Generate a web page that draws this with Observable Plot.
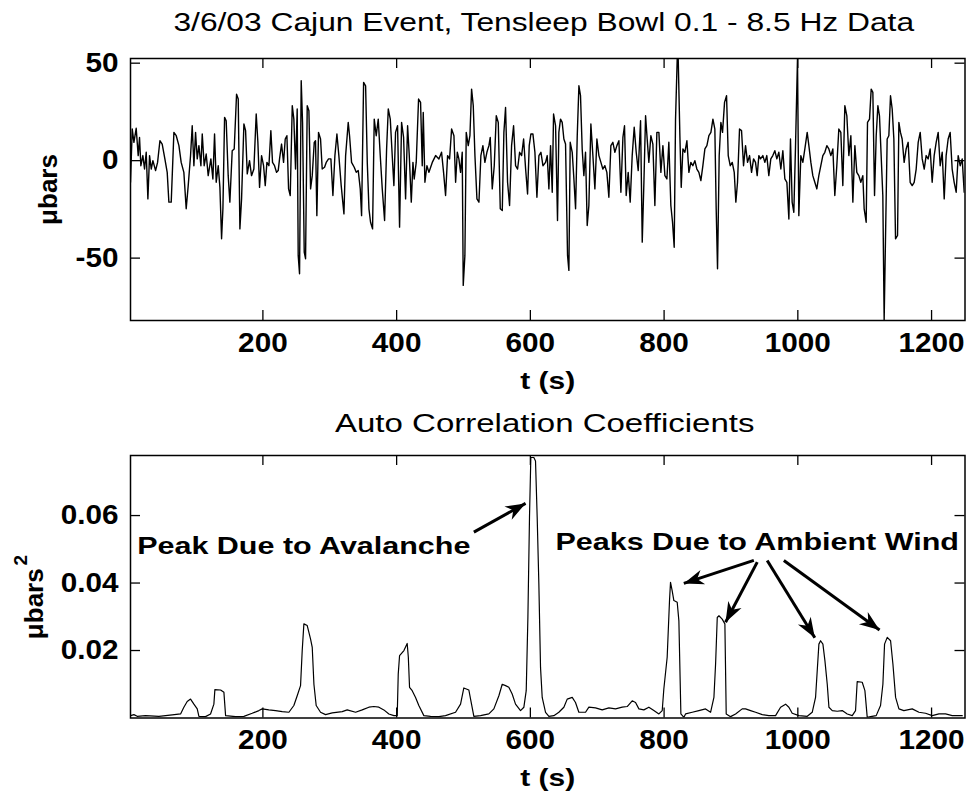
<!DOCTYPE html>
<html>
<head>
<meta charset="utf-8">
<script src="https://cdn.jsdelivr.net/npm/d3@7"></script>
<script src="https://cdn.jsdelivr.net/npm/@observablehq/plot@0.6"></script>
<style>
  html, body { margin: 0; padding: 0; background: #fff; }
  #chart { width: 969px; }
  #chart svg { display: block; }
</style>
</head>
<body>
<div id="chart"></div>
<script>
// ---------- data ----------
const titleTop = "3/6/03 Cajun Event, Tensleep Bowl 0.1 - 8.5 Hz Data";
const titleBottom = "Auto Correlation Coefficients";
const xLabel = "t (s)";
const yLabelTop = "\u03bcbars";
const yLabelBottom = "\u03bcbars";
const yLabelBottomSup = "2";
const xTicks = [200, 400, 600, 800, 1000, 1200];
const topYTicks = [-50, 0, 50];
const botYTicks = [0.02, 0.04, 0.06];
const xDomain = [2, 1250];
const topYDomain = [-82, 52.4];
const botYDomain = [0, 0.0778];

// waveform, [t (s), pressure (µbars)]
const waveSegA = [[2,-11.1],[4.6,16.2],[7.1,9.4],[10.5,16.6],[13.5,2.6],[15.5,11.9],[17.5,-2.6],[20.5,2.6],[23,-4.3],[25.5,4.3],[28,-19.6],[30.5,2.6],[33,-4.3],[35.5,0],[39.5,-5.1],[42.5,-0.9],[46,10.2],[49.4,8.5],[53.4,0.9],[56.9,-6],[59.4,-21.3],[62.9,-21.3],[66.9,14.5],[70.4,12.8],[74.4,7.7],[77.8,-0.9],[81.8,-6],[85.3,-24.7],[88.3,-12.8],[91.8,2.6],[94.3,17.9],[96.8,-2.6],[99.3,14.5],[101.8,0.9],[104.3,7.7],[107.3,-2.6],[109.3,13.7],[112.2,-2.6],[115.2,3.4],[118.2,-7.7],[122.2,0.9],[125.2,-9.4],[127.7,13.7],[130.2,-11.1],[133.2,-2.6],[135.7,-13.7],[138.2,-40.1],[140.2,-24.7],[142.7,22.2],[145.1,20.5],[148.1,-7.7],[150.6,-21.3],[154.1,5.1],[157.1,6],[160.6,34.1],[163.1,31.6],[165.6,-35],[168.1,-19.6],[171.6,18.8],[174.1,15.4],[176.6,-6.8],[180,0],[183,-7.7],[186.5,-4.3],[190,23.9],[192.5,9.4],[195,-13.7],[198,2.6],[201,-2.6],[203.5,-12.8],[206,-0.9],[209,-2.6],[211.9,15.4],[214.4,-0.9],[217.4,-2.6],[220.4,-6],[222.9,-5.1],[224.9,0.9],[227.9,8.5],[230.9,-0.9],[233.4,11.1],[235.9,12.8],[238.4,-14.5],[240.9,-17.9],[243.9,28.2],[246.3,21.3],[248.8,-4.3],[251.3,26.5],[252.8,-48.6],[254.8,-58],[257.3,41],[259.3,19.6],[261.8,-46.9],[263.8,-50.3],[266.3,28.2],[268.8,25.6],[271.3,-14.5],[273.8,-7.7],[276.8,9.4],[278.7,10.2],[280.7,-28.2],[283.2,14.5],[286.2,11.1],[288.7,-4.3],[292.2,-3.4],[294.7,-0.9],[298.2,0.9],[301.7,0.9],[304.7,-17.9],[307.7,2.6],[310.7,13.7],[313.6,2.6],[317.1,-12.8]];
const waveSegB = [[321.2,-27.3],[323.7,2.6],[327.6,19.6],[329.6,12.8],[332.6,-0.9],[336.6,-3.4],[339.6,-6],[342.6,-5.1],[345.6,-14.5],[347.6,-28.2],[350.6,40.1],[353.6,38.4],[356.1,-0.9],[358.6,-24.7],[361,-31.6],[364,-35],[366.5,21.3],[369.5,12.8],[372.5,21.3],[375.5,2.6],[378.5,-14.5],[382,-30.7],[385,6],[387.5,26.5],[390.5,21.3],[393.4,2.6],[395.9,-12.8],[398.4,14.5],[401.4,17.9],[404.4,-34.1],[407.4,19.6],[410.4,11.9],[413.4,-19.6],[416.4,17.9],[418.9,2.6],[421.9,-21.3],[424.4,-0.9],[426.3,-9.4],[429.3,-0.9],[432.8,31.6],[435.8,29.9],[438.3,-2.6],[439.8,24.7],[442.3,-11.1],[445.3,-2.6],[448.3,-6],[453.3,-0.9],[458.3,2.6],[463.2,0.9],[467.2,4.3],[470.2,-6],[473.2,-17.9],[476.2,2.6],[479.2,0.9],[482.2,16.2],[485.7,12.8],[488.2,-11.1],[490.7,4.3],[493.1,0.9],[495.6,-6],[498.1,4.3],[499.6,-64],[502.1,-48.6],[504.1,14.5],[507.1,7.7],[509.6,12.8],[512.1,36.7],[514.6,28.2],[517.1,2.6],[520.1,-19.6],[523.1,-21.3],[526,2.6],[529,7.7],[532,-0.9],[535,4.3],[538,7.7],[540,11.9],[543,-14.5],[546,-2.6],[549,23],[552,19.6],[555,-24.7],[558,-25.6],[560.4,14.5],[562.9,27.3],[565.9,-11.1],[568.9,-23],[571.9,7.7],[574.9,17.9],[577.9,-2.6],[580.9,-4.3],[583.9,4.3],[586.9,2.6],[589.9,11.1],[592.9,-4.3],[595.8,-17.1],[598.3,7.7],[600.8,13.7],[603.8,13.7],[606.8,4.3],[609.8,-18.8],[612.8,2.6],[615.8,4.3],[618.8,-2.6]];
const waveSegC = [[622.7,-0.9],[625.2,2.6],[627.7,-14.5],[630.2,7.7],[632.7,-16.2],[634.7,23.9],[637.7,17.9],[640.6,-30.7],[642.6,14.5],[645.1,21.3],[647.6,19.6],[650.1,11.1],[652.6,8.5],[655.6,-48.6],[657.6,-56.3],[659.6,9.4],[662.6,4.3],[665.1,-9.4],[667.6,-24.7],[670.1,12.8],[672.6,38.4],[675,33.3],[677.5,6],[680,-7.7],[682.5,4.3],[685,-33.3],[687.5,-23],[690.5,18.8],[693.5,2.6],[696.5,-14.5],[699.5,11.1],[702.5,2.6],[705.5,-0.9],[708.4,-4.3],[711.4,-2.6],[714.4,-6],[717.4,-18.8],[720.4,7.7],[723.4,9.4],[726.4,4.3],[729.4,7.7],[732.4,10.2],[735.4,-16.2],[738.4,11.9],[740.8,17.9],[743.3,-17.9],[746.3,-6],[749.3,-21.3],[752.3,2.6],[755.3,17.1],[758.3,4.3],[761.3,-5.1],[764.8,20.5],[767.3,-41.8],[769.8,-11.1],[772.3,23],[774.7,11.1],[777.2,-0.9],[780.2,12.8],[783.2,8.5],[786.2,-23],[789.2,14.5],[792.2,14.5],[795.2,-6],[798.2,7.7],[801.2,-7.7],[804.2,-9.4],[807.1,9.4],[810.1,-23],[812.6,-31.6],[815.1,-44.4],[817.1,21.3],[819.6,52],[821.1,52.4],[823.6,12.8],[825.6,-13.7],[828.1,6],[831.1,4.3],[834.1,10.2],[837.1,-6],[840,-0.9],[843,-2.6],[846,0],[849,-4.3],[852,-6],[855,-10.2],[858,-2.6],[861,6],[864,7.7],[867,12.8],[870,14.5],[873,21.3],[875.9,16.2],[877.9,-24.7],[879.9,-55.5],[882.4,2.6],[884.9,19.6],[887.4,14.5],[890.4,29.9],[893.4,33.3],[895.9,2.6],[898.9,-2.6],[901.9,-0.9],[904.9,-6],[907.3,-21.3],[909.8,-11.1],[912.8,16.2],[915.8,15.4],[918.8,-2.6],[921.8,7.7],[924.8,-0.9],[927.8,2.6],[930.8,-6],[933.8,0.9]];
const waveSegD = [[936.7,-0.9],[939.2,-7.7],[941.7,2.6],[944.2,0.9],[947.7,2.6],[950.7,-0.9],[953.6,2.6],[956.6,-7.7],[959.6,0.9],[962.6,2.6],[965.6,5.1],[968.6,0.9],[971.6,4.3],[974.6,-4.3],[977.6,5.1],[980.6,-9.4],[983.6,-11.1],[986.6,-29.9],[989,11.1],[991.5,-21.3],[994,-26.5],[996.5,6.8],[999.5,52.4],[1001.5,-28.2],[1004.5,2.6],[1007.5,-0.9],[1010.5,6],[1014,14.5],[1016.5,7.7],[1019.5,-0.9],[1022.4,-7.7],[1025.4,-11.1],[1028.4,-14.5],[1031.4,-7.7],[1034.4,-2.6],[1037.4,2.6],[1040.4,4.3],[1043.4,7.7],[1046.4,6],[1049.4,2.6],[1052.4,6],[1055.3,-17.9],[1058.3,-2.6],[1061.3,16.2],[1064.3,14.5],[1067.3,-12.8],[1070.3,28.2],[1073.3,23],[1076.3,2.6],[1079.3,12.8],[1082.3,-21.3],[1085.3,7.7],[1088.2,-6],[1091.2,-7.7],[1094.2,-11.1],[1097.2,-7.7],[1099.2,-24.7],[1102.2,-31.6],[1104.2,19.6],[1107.2,21.3],[1109.7,36.7],[1112.2,35],[1114.7,-17.9],[1117.2,12.8],[1119.7,28.2],[1122.1,23],[1124.6,2.6],[1127.1,-17.9],[1129.1,-82],[1131.1,-40.1],[1133.6,11.1],[1136.1,12.8],[1138.6,33.3],[1141.1,26.5],[1143.6,11.1],[1146.1,-40.1],[1149.1,-38.4],[1151.1,19.6],[1153.5,14.5],[1156,11.1],[1159,-0.9],[1162,6],[1165,9.4],[1168,-11.1],[1171,-12.8],[1174,-11.1],[1177,-4.3],[1180,9.4],[1183,14.5],[1186,0.9],[1189,-4.3],[1191.9,2.6],[1194.9,0.9],[1197.9,6],[1200.9,-11.1],[1203.9,2.6],[1206.9,9.4],[1209.9,14.5],[1212.9,-2.6],[1215.9,4.3],[1218.9,-19.6],[1221.8,2.6],[1224.8,11.1],[1227.8,14.5],[1230.8,-4.3],[1233.8,-11.1],[1236.8,-16.2],[1239.8,2.6],[1242.8,-2.6],[1245.8,0.9],[1248.8,-16.2]];

// auto-correlation, [t (s), µbars²]
const acFirst = [[2.1,0.0007],[7.1,0.001],[12,0.0005],[24.5,0.0007],[44.5,0.0005],[64.4,0.0009],[76.9,0.0012],[81.8,0.0032],[86.8,0.0049],[91.8,0.0056],[96.8,0.0041],[101.8,0.0027],[104.3,0.0005],[114.2,0.0004],[121.7,0.0012],[126.7,0.0041],[128.2,0.0084],[136.7,0.0083],[141.7,0.0076],[144.2,0.0007],[159.1,0.0004],[171.6,0.0005],[184,0.0014],[194,0.0022],[199,0.0027],[208.9,0.0024],[218.9,0.0022],[228.9,0.0019],[238.9,0.0017],[246.3,0.0037],[251.3,0.0066],[256.3,0.0096],[258.8,0.02],[261.3,0.0279],[266.3,0.0274],[268.8,0.0254],[271.3,0.0234],[273.8,0.0209],[276.3,0.01],[279.7,0.0037],[286.2,0.0017],[293.7,0.001],[303.7,0.0015],[318.6,0.0019],[326.1,0.0024],[338.6,0.0017],[348.5,0.0024],[358.5,0.0032],[366,0.0034],[373.5,0.0032],[380.9,0.0024],[388.4,0.0012],[395.9,0.0007]];
const acMiddle = [[400.9,0.0007],[402.4,0.013],[404.4,0.0185],[410.9,0.02],[415.8,0.0221],[417.5,0.018],[419.3,0.0091],[423.3,0.0081],[428.3,0.0061],[433.2,0.0037],[440.7,0.0007],[450.7,0.0005],[463.2,0.0004],[473.1,0.0007],[488.1,0.0017],[495.6,0.0041],[500.5,0.0089],[508,0.0083],[512,0.0041],[515.5,0.0005],[525.5,0.0007],[537.9,0.0012],[545.4,0.0027],[552.9,0.0066],[557.9,0.01],[562.9,0.0096],[567.8,0.0091],[572.8,0.0071],[577.8,0.0041],[585.3,0.0022],[590.3,0.0032],[593.8,0.0081],[596.3,0.0298],[598.7,0.0595],[600.7,0.0772],[605.2,0.0772],[607.7,0.0762],[610.2,0.0595],[612.7,0.0397],[615.2,0.015],[617.7,0.0061],[622.7,0.0017],[627.7,0.0005],[635.1,0.0007],[642.6,0.0017],[650.1,0.0032],[655.1,0.0056],[662.6,0.0061],[667.5,0.0046],[672.5,0.0017],[682.5,0.0017],[687.5,0.0032],[697.4,0.003],[707.4,0.0024],[717.4,0.003],[727.4,0.0027],[737.3,0.0032],[744.8,0.0034],[752.3,0.0051],[757.3,0.0046],[762.3,0.0027],[769.7,0.0024],[777.2,0.0032],[784.7,0.0022],[792.2,0.0012],[797.2,0.0022]];
const acLast = [[799.6,0.0086],[804.6,0.018],[808.1,0.0348],[809.6,0.0402],[812.1,0.0377],[814.6,0.0348],[819.6,0.0343],[822.1,0.0288],[825.1,0.0012],[829.6,0.0002],[832.1,0.0012],[842.1,0.0017],[852,0.0022],[862,0.0027],[869.5,0.0017],[874.5,0.0061],[877,0.016],[879.5,0.0298],[882,0.0303],[886.9,0.0293],[890.9,0.0279],[892.9,0.0012],[899.4,0.0004],[906.9,0.0012],[916.8,0.0027],[921.8,0.0027],[929.3,0.0022],[936.8,0.0017],[946.8,0.001],[956.7,0.0007],[966.7,0.0007],[974.2,0.0032],[981.7,0.0041],[986.6,0.0032],[991.6,0.0014],[1001.6,0.0007],[1014.1,0.0005],[1021.5,0.0017],[1026.5,0.0061],[1029,0.014],[1031.5,0.0219],[1034,0.0229],[1037.5,0.0219],[1040.5,0.017],[1044,0.01],[1046.5,0.0032],[1051.5,0.0022],[1058.9,0.002],[1066.4,0.0022],[1073.9,0.0012],[1081.4,0.0007],[1086.3,0.0022],[1088.8,0.0108],[1096.3,0.0106],[1100.3,0.0081],[1103.8,0.0002],[1108.8,0.0004],[1117.2,0.0007],[1123.7,0.0037],[1127.2,0.01],[1129.7,0.0219],[1133.7,0.0239],[1138.7,0.0229],[1142.2,0.016],[1146.2,0.0061],[1151.2,0.0027],[1158.6,0.0022],[1171.1,0.0027],[1181.1,0.0017],[1191,0.0014],[1201,0.0007],[1211,0.0012],[1220.9,0.0012],[1230.9,0.0007],[1245.9,0.0007]];

// annotations (data coordinates)
const noteLabels = ["Peak Due to Avalanche", "Peaks Due to Ambient Wind"];
const noteT = [12, 637.6];
const noteV = [0.0508, 0.0521];
const arrowFrom = [[515.5, 0.0551], [934.2, 0.0467], [939.3, 0.0462], [954.2, 0.0467], [979.1, 0.0467]];
const arrowTo   = [[592.8, 0.0636], [829.5, 0.0399], [891.9, 0.0284], [1025.4, 0.0238], [1122.2, 0.0261]];

// ---------- build tables ----------
const wave = [...waveSegA, ...waveSegB, ...waveSegC, ...waveSegD].map(([t, p]) => ({t, p}));
const ac = [...acFirst, ...acMiddle, ...acLast].map(([t, v]) => ({t, v}));
const notes = noteLabels.map((label, i) => ({label, t: noteT[i], v: noteV[i]}));
const arrows = arrowFrom.map((a, i) => ({t1: a[0], v1: a[1], t2: arrowTo[i][0], v2: arrowTo[i][1]}));

// ---------- style ----------
const fontFamily = "'Liberation Sans', Arial, Helvetica, sans-serif";
const W = 969, ML = 130, MR = 4.5, TICK = 10;
const fw = W - ML - MR;

function filledArrow(color) {
  const m = d3.create("svg:marker")
    .attr("viewBox", "-21 -8 22 16")
    .attr("markerWidth", 22).attr("markerHeight", 16)
    .attr("markerUnits", "userSpaceOnUse")
    .attr("orient", "auto")
    .attr("overflow", "visible");
  m.append("path").attr("d", "M0,0 L-20,-7.5 L-14,0 L-20,7.5 Z").attr("fill", color).attr("stroke", "none");
  return m.node();
}

function frameTicks(yt, fh) {
  const s = {stroke: "#000", strokeWidth: 1.3};
  return [
    Plot.tickX(xTicks, {x: d => d, insetTop: fh - TICK, ...s}),
    Plot.tickX(xTicks, {x: d => d, insetBottom: fh - TICK, ...s}),
    Plot.tickY(yt, {y: d => d, insetRight: fw - TICK, ...s}),
    Plot.tickY(yt, {y: d => d, insetLeft: fw - TICK, ...s})
  ];
}

const tickText = {tickSize: 0, tickPadding: 12, fontSize: 27, fontWeight: "bold", label: null};
const vLabel = {frameAnchor: "left", rotate: -90, textAnchor: "middle", lineAnchor: "middle", fontWeight: "bold"};

// ---------- top panel ----------
const topH = 400, topMT = 58, topMB = 80;
const topPlot = Plot.plot({
  width: W, height: topH,
  marginLeft: ML, marginRight: MR, marginTop: topMT, marginBottom: topMB,
  style: {fontFamily, background: "#fff", color: "#000"},
  x: {domain: xDomain},
  y: {domain: topYDomain},
  marks: [
    Plot.line(wave, {x: "t", y: "p", stroke: "#000", strokeWidth: 1.4, clip: true}),
    ...frameTicks(topYTicks, topH - topMT - topMB),
    Plot.frame({stroke: "#000", strokeWidth: 1.5}),
    Plot.axisX({ticks: xTicks, tickFormat: d => String(d), ...tickText}),
    Plot.axisY({ticks: topYTicks, tickFormat: d => String(d), ...tickText}),
    Plot.text([xLabel], {text: d => d, frameAnchor: "bottom", textAnchor: "middle", dy: 61, lineAnchor: "middle", fontSize: 24, fontWeight: "bold"}),
    Plot.text([yLabelTop], {text: d => d, ...vLabel, dx: -82, fontSize: 26}),
    Plot.text([titleTop], {text: d => d, frameAnchor: "top", textAnchor: "middle", dx: -4, dy: -36, lineAnchor: "middle", fontSize: 25})
  ]
});

// ---------- bottom panel ----------
const botH = 394, botMT = 55, botMB = 76.5;
function bottomMarks(arrowMark) {
  return [
    Plot.line(ac, {x: "t", y: "v", stroke: "#000", strokeWidth: 1.2, clip: true}),
    ...frameTicks(botYTicks, botH - botMT - botMB),
    Plot.frame({stroke: "#000", strokeWidth: 1.5}),
    Plot.axisX({ticks: xTicks, tickFormat: d => String(d), ...tickText}),
    Plot.axisY({ticks: botYTicks, tickFormat: d => d.toFixed(2), ...tickText}),
    Plot.text([xLabel], {text: d => d, frameAnchor: "bottom", textAnchor: "middle", dy: 60, lineAnchor: "middle", fontSize: 24, fontWeight: "bold"}),
    Plot.text([yLabelBottom], {text: d => d, ...vLabel, dx: -96, dy: 17, fontSize: 26}),
    Plot.text([yLabelBottomSup], {text: d => d, ...vLabel, dx: -110, dy: -26.5, fontSize: 19}),
    Plot.text([titleBottom], {text: d => d, frameAnchor: "top", textAnchor: "middle", dx: -3, dy: -31.5, lineAnchor: "middle", fontSize: 25}),
    Plot.text(notes, {x: "t", y: "v", text: "label", textAnchor: "start", lineAnchor: "middle", fontSize: 24, fontWeight: "bold"}),
    arrowMark
  ];
}
const botOpts = (marks) => ({
  width: W, height: botH,
  marginLeft: ML, marginRight: MR, marginTop: botMT, marginBottom: botMB,
  style: {fontFamily, background: "#fff", color: "#000"},
  x: {domain: xDomain},
  y: {domain: botYDomain},
  marks
});
let botPlot;
try {
  botPlot = Plot.plot(botOpts(bottomMarks(
    Plot.link(arrows, {x1: "t1", y1: "v1", x2: "t2", y2: "v2", stroke: "#000", strokeWidth: 3, markerEnd: filledArrow})
  )));
} catch (e) {
  botPlot = Plot.plot(botOpts(bottomMarks(
    Plot.arrow(arrows, {x1: "t1", y1: "v1", x2: "t2", y2: "v2", stroke: "#000", strokeWidth: 3, headLength: 18})
  )));
}

const chart = document.getElementById("chart");
chart.append(topPlot, botPlot);

// horizontal stretch of the lettering, to match the reference's wide text
const stretchOf = new Map([
  [titleTop, 1.27], [titleBottom, 1.32], [xLabel, 1.25],
  [noteLabels[0], 1.27], [noteLabels[1], 1.27]
]);
const tickStretch = 1.1;
const tickStrings = new Set([...xTicks.map(String), ...topYTicks.map(String), ...botYTicks.map(d => d.toFixed(2))]);
for (const svg of [topPlot, botPlot]) {
  svg.querySelectorAll("text").forEach(el => {
    const s = el.textContent;
    const f = stretchOf.has(s) ? stretchOf.get(s) : (tickStrings.has(s) ? tickStretch : null);
    if (!f) return;
    const L = el.getComputedTextLength();
    if (L > 0) {
      el.setAttribute("textLength", (L * f).toFixed(1));
      el.setAttribute("lengthAdjust", "spacingAndGlyphs");
    }
  });
}
</script>
</body>
</html>
